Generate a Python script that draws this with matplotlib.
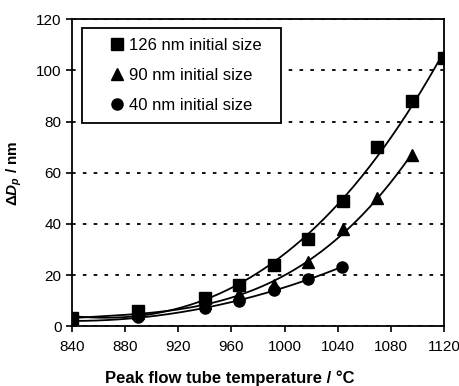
import numpy as np
import matplotlib.pyplot as plt
from matplotlib.patches import Rectangle

plt.rcParams['font.family'] = ['Liberation Sans', 'DejaVu Sans']
plt.rcParams['mathtext.fontset'] = 'custom'
plt.rcParams['mathtext.rm'] = 'Liberation Sans:bold'
plt.rcParams['mathtext.it'] = 'Liberation Sans:bold:italic'

# data
temp_126 = np.array([840, 890, 940, 966, 992, 1018, 1044, 1070, 1096, 1120])
dp_126 = np.array([3, 6, 11, 16, 24, 34, 49, 70, 88, 105])

temp_90 = np.array([840, 890, 940, 966, 992, 1018, 1044, 1070, 1096])
dp_90 = np.array([3, 5, 9, 12.5, 16, 25, 38, 50, 67])

temp_40 = np.array([840, 890, 940, 966, 992, 1018, 1043])
dp_40 = np.array([2, 3.5, 7, 10, 14, 18.5, 23])

labels = ["126 nm initial size", "90 nm initial size", "40 nm initial size"]
xticks = [840, 880, 920, 960, 1000, 1040, 1080, 1120]
yticks = [0, 20, 40, 60, 80, 100, 120]

fig = plt.figure(figsize=(4.59, 3.86), dpi=100)
ax = fig.add_axes([0.157, 0.155, 0.81, 0.795])

series = [(temp_126, dp_126, 's', 9), (temp_90, dp_90, '^', 8.5), (temp_40, dp_40, 'o', 8)]
for (t, d, m, ms), lab in zip(series, labels):
    # smooth trend line through the points
    coef = np.polyfit(t, d, 3)
    tt = np.linspace(t.min(), t.max(), 200)
    ax.plot(tt, np.polyval(coef, tt), color='black', lw=1.3, zorder=2)
    ax.plot(t, d, linestyle='none', marker=m, ms=ms, color='black', label=lab, zorder=3)

ax.set_xlim(840, 1120)
ax.set_ylim(0, 120)
ax.set_xticks(xticks)
ax.set_yticks(yticks)
ax.yaxis.grid(True, color='black', linestyle=(0, (2, 4)), lw=1.3)
ax.tick_params(direction='out', length=4, width=1.2, labelsize=11)
ax.tick_params(axis='x', pad=6)
for s in ax.spines.values():
    s.set_linewidth(1.3)

ax.set_xlabel("Peak flow tube temperature / °C", fontsize=12, fontweight='bold')
ax.xaxis.set_label_coords(0.425, -0.145, transform=ax.transAxes)
ax.xaxis.label.set_va('top')
ax.set_ylabel(r"$\mathrm{\Delta}D_p$ / nm", fontsize=11, fontweight='bold', labelpad=9)

# legend box
ax.add_patch(Rectangle((0.027, 0.663), 0.535, 0.31, transform=ax.transAxes,
                       facecolor='white', edgecolor='black', lw=1.3, zorder=4))
leg = ax.legend(loc='upper left', bbox_to_anchor=(0.105, 0.94), borderaxespad=0,
                fontsize=12, frameon=False, labelspacing=0.9,
                handlelength=0.75, handletextpad=0.35, borderpad=0)
leg.set_zorder(5)

plt.savefig("out.png", dpi=100)
